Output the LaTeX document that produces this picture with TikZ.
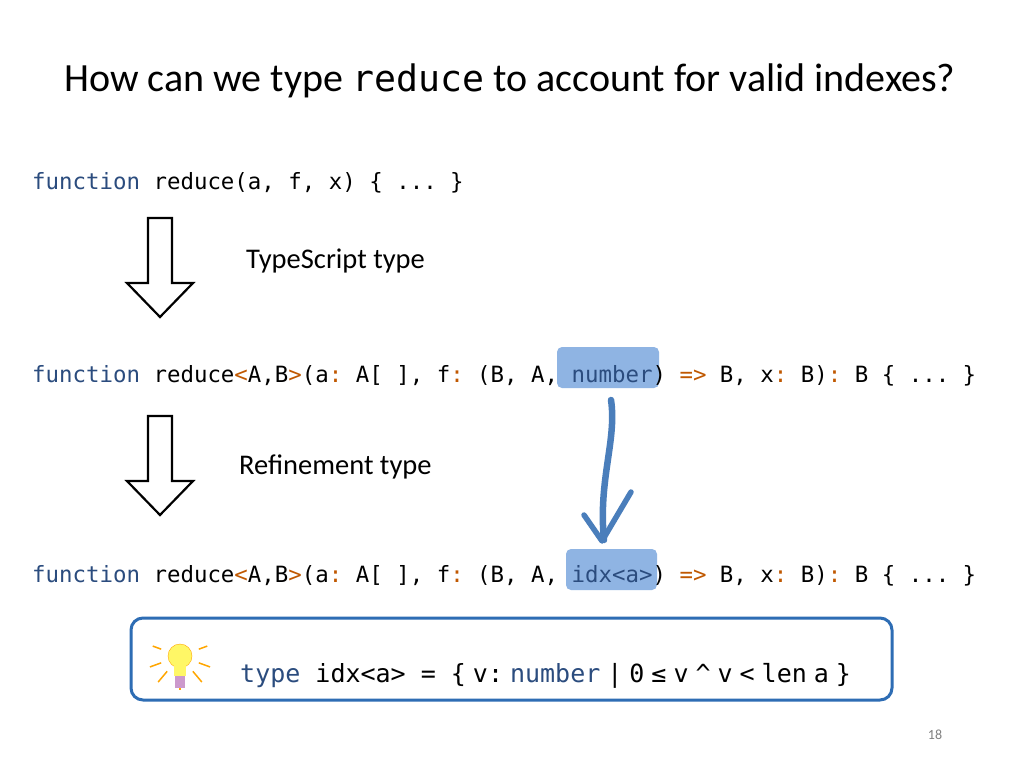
\documentclass[tikz,border=0pt]{standalone}
\usepackage{fontspec}
\usetikzlibrary{calc}
\setmainfont{Carlito}
\newfontfamily\codefont{DejaVu Sans Mono}
\frenchspacing
\begin{document}
\definecolor{kw}{HTML}{2B4C7E}
\definecolor{op}{HTML}{C05800}
\definecolor{hl}{HTML}{8FB4E3}
\definecolor{bx}{HTML}{2E6DB4}
\definecolor{arr}{HTML}{4A7EBB}
\newcommand{\ts}{\hspace{7pt}}
\begin{tikzpicture}[x=1pt,y=-1pt,
  code/.style={anchor=base west,inner sep=0,font=\codefont\fontsize{22.4}{26}\selectfont},
  lbl/.style={anchor=west,inner sep=0,font=\fontsize{28.5}{32}\selectfont},
  hol/.style={draw=black,line width=2.2pt,fill=white,line join=miter},
  hlbox/.style={fill=hl,rounded corners=5pt}]
\useasboundingbox (0,0) rectangle (1024,768);
\fill[white] (0,0) rectangle (1024,768);
\node[anchor=base,inner sep=0,font=\fontsize{40}{44}\selectfont] (title) at (510,91) {How can we type {\codefont\fontsize{36.5}{40}\selectfont reduce} to account for valid indexes?};
% highlights
\fill[hlbox] (557,347) rectangle (659,388);
\fill[hlbox] (566,549) rectangle (657,590);
\node[code] (l1) at (32,189) {\textcolor{kw}{function} reduce(a, f, x) \{ ... \}};
\node[code] (l2) at (32,382) {\textcolor{kw}{function} reduce\textcolor{op}{<}A,B\textcolor{op}{>}(a\textcolor{op}{:} A[ ], f\textcolor{op}{:} (B, A, \textcolor{kw}{number}) \textcolor{op}{=>} B, x\textcolor{op}{:} B)\textcolor{op}{:} B \{ ... \}};
\node[code] (l3) at (32,582) {\textcolor{kw}{function} reduce\textcolor{op}{<}A,B\textcolor{op}{>}(a\textcolor{op}{:} A[ ], f\textcolor{op}{:} (B, A, \textcolor{kw}{idx<a>}) \textcolor{op}{=>} B, x\textcolor{op}{:} B)\textcolor{op}{:} B \{ ... \}};
% hollow arrows
\draw[hol] (148,218) -- (172,218) -- (172,283) -- (193,283) -- (160,317) -- (127,283) -- (148,283) -- cycle;
\draw[hol] (148,416) -- (172,416) -- (172,481) -- (193,481) -- (160,515) -- (127,481) -- (148,481) -- cycle;
\node[lbl] (t1) at (246,261) {TypeScript type};
\node[lbl] (t2) at (239,467) {Refinement type};
% curved arrow
\draw[arr,line width=6.5pt,line cap=round,line join=round] (611,400) .. controls (617,440) and (598,480) .. (604,540);
\draw[arr,line width=5.5pt,line cap=round,line join=round] (584,515) -- (602,541) -- (631,492);
% box
\draw[bx,line width=3pt,rounded corners=12pt] (131,618) rectangle (892,700);
\node[code,font=\codefont\fontsize{25}{28}\selectfont] (def) at (240,682) {\textcolor{kw}{type} idx<a> = \{\ts v:\ts\textcolor{kw}{number}\ts|\ts 0\ts≤\ts v\ts\textasciicircum\ts v\ts<\ts len\ts a\ts\}};
% bulb
\foreach \a/\l in {90/14,130/14,50/14,160/12,20/12,200/9,-20/9}{
  \draw[orange!70!yellow,line width=1.5pt] ($(180,656)+(\a:20)$) -- ($(180,656)+(\a:20+\l)$);}
\fill[yellow!60,draw=orange!70!yellow] (180,656) circle (12);
\fill[yellow!60] (174,662) rectangle (186,676);
\fill[violet!40] (175,676) rectangle (185,688);
\node[anchor=base,inner sep=0,font=\fontsize{14}{16}\selectfont,text=gray] (pg) at (935,739) {18};
\end{tikzpicture}
\end{document}
